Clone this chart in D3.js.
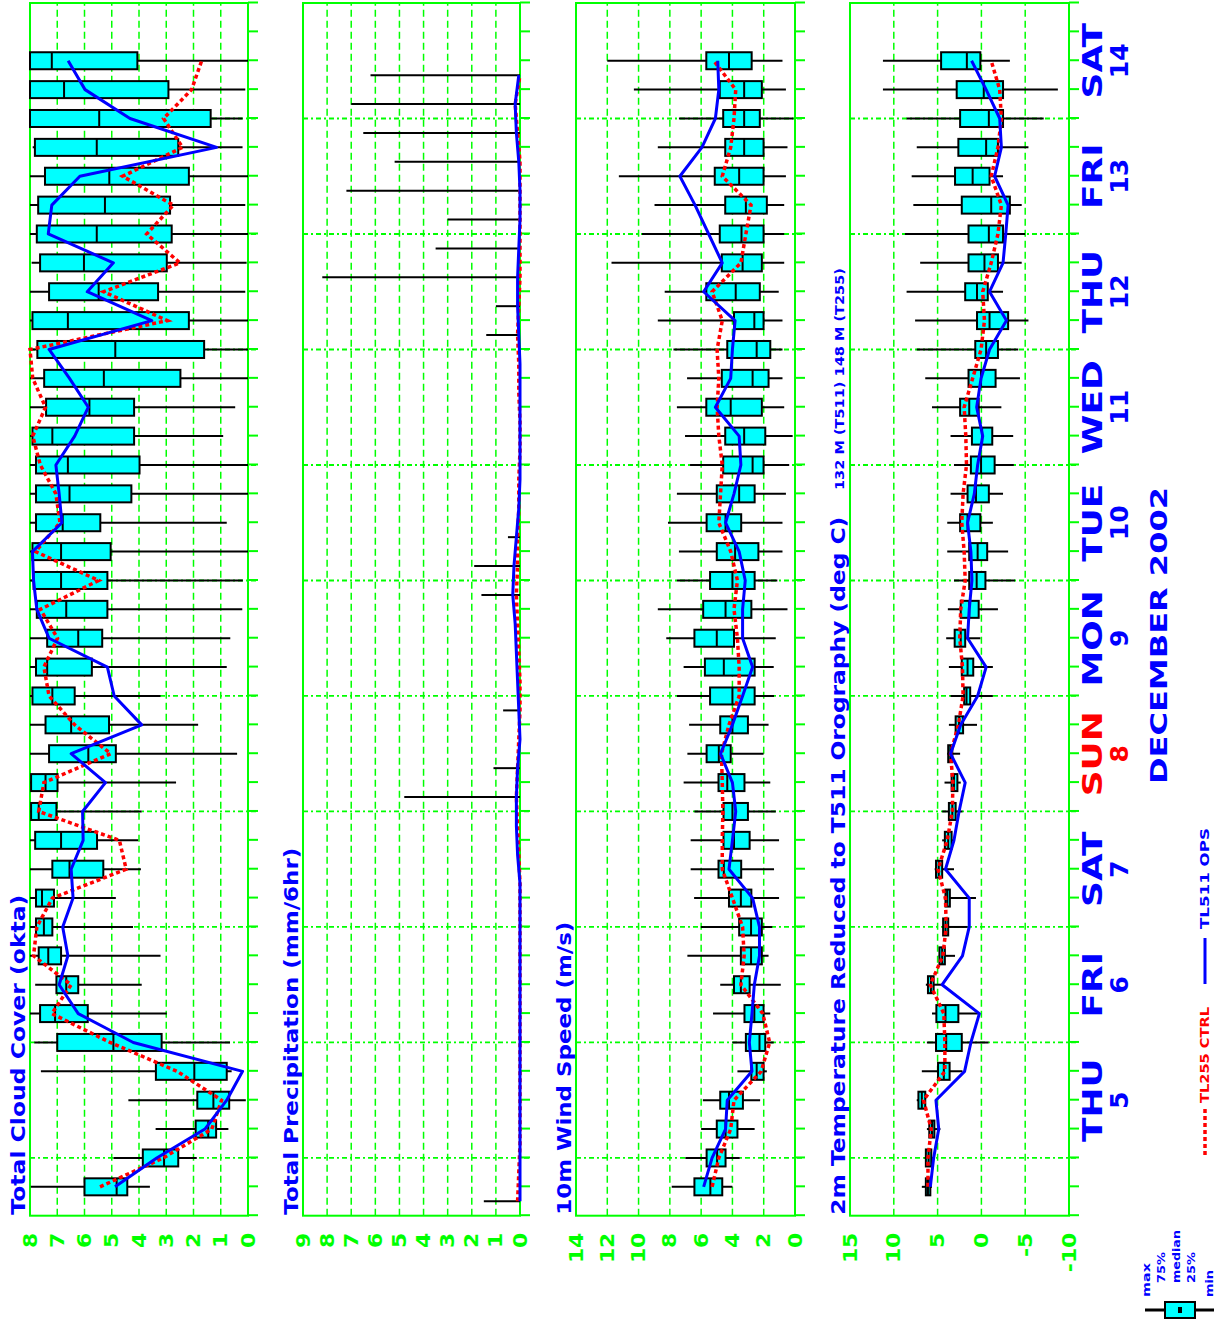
<!DOCTYPE html>
<html>
<head>
<meta charset="utf-8">
<script src="https://cdn.jsdelivr.net/npm/d3@7"></script>
<style>
html, body { margin: 0; padding: 0; background: #fff; }
svg { display: block; }
text { font-family: "DejaVu Sans", sans-serif; font-weight: bold; }
</style>
</head>
<body>
<div id="chart"></div>
<script>
// ---- data (EPS meteogram, base 12 UTC 4 Dec 2002, 6-hourly steps) ----
var baseTime = Date.UTC(2002, 11, 4, 12);
var endTime = Date.UTC(2002, 11, 15, 0);
var stepHours = [6, 12, 18, 24, 30, 36, 42, 48, 54, 60, 66, 72, 78, 84, 90, 96, 102, 108, 114, 120,
    126, 132, 138, 144, 150, 156, 162, 168, 174, 180, 186, 192, 198, 204, 210, 216, 222, 228, 234, 240];

var dayNames = ['THU', 'FRI', 'SAT', 'SUN', 'MON', 'TUE', 'WED', 'THU', 'FRI', 'SAT'];
var dayNumbers = [5, 6, 7, 8, 9, 10, 11, 12, 13, 14];

var cloudMax = [7.97, 4.94, 3.39, 4.39, 7.6, 7.84, 8, 7.81, 8, 8, 8, 8, 8, 8, 8, 8, 8, 8, 8, 8,
    8, 8, 8, 8, 8, 8, 8, 8, 8, 8, 8, 8, 7.94, 8, 8, 8, 7.9, 8, 8, 8];
var cloudQ3 = [6.0, 3.86, 1.92, 1.86, 3.38, 7.0, 7.63, 7.03, 7.68, 7.78, 7.78, 7.18, 7.81, 7.96, 7.96, 7.3, 7.43, 7.91, 7.78, 7.37,
    7.75, 7.87, 7.91, 7.78, 7.78, 7.78, 7.91, 7.41, 7.48, 7.73, 7.91, 7.3, 7.63, 7.75, 7.7, 7.45, 7.82, 8, 8, 8];
var cloudMed = [4.82, 3.08, 1.46, 1.27, 1.97, 4.94, 7.08, 6.67, 7.33, 7.49, 7.56, 6.55, 6.86, 7.68, 7.43, 5.86, 6.49, 7.18, 7.37, 6.23,
    6.67, 6.86, 6.86, 6.8, 6.55, 6.61, 7.18, 5.82, 5.29, 4.87, 6.61, 5.48, 6.02, 5.55, 5.25, 5.09, 5.55, 5.46, 6.75, 7.2];
var cloudQ1 = [4.43, 2.56, 1.17, 0.69, 0.78, 3.17, 5.88, 6.23, 6.86, 7.18, 7.12, 5.31, 5.54, 7.03, 6.99, 4.85, 5.1, 6.36, 5.73, 5.35,
    5.16, 5.16, 5.04, 5.42, 4.28, 3.98, 4.18, 4.18, 2.48, 1.61, 2.17, 3.3, 2.98, 2.8, 2.86, 2.17, 2.56, 1.37, 2.92, 4.06];
var cloudMin = [3.6, 1.88, 0.72, 0.08, 0.6, 0.66, 2.98, 3.9, 3.21, 4.22, 4.85, 3.93, 4.03, 3.9, 2.64, 0.4, 1.83, 3.21, 0.78, 0.65,
    0.21, 0.19, 0, 0.78, 0, 0, 0.91, 0.47, 0, 0, 0, 0.1, 0.05, 0, 0.1, 0, 0.2, 0.2, 0.1, 0];
var cloudOps = [4.88, 3.35, 1.58, 0.78, 0.2, 4.21, 6.23, 6.93, 6.61, 6.8, 6.42, 6.49, 6.05, 6.07, 5.23, 6.49, 3.9, 4.91, 5.16, 7.3,
    7.75, 7.87, 7.91, 6.83, 6.93, 7.05, 6.36, 5.86, 6.55, 7.3, 3.53, 5.9, 4.94, 7.33, 7.2, 6.17, 1.15, 4.33, 5.98, 6.6];
var cloudCtrl = [5.43, 3.11, 1.33, 0.97, 2.6, 5.06, 7.2, 6.49, 7.87, 7.75, 7.18, 4.47, 4.72, 7.68, 7.49, 5.04, 6.36, 7.3, 7.49, 6.99,
    7.62, 5.48, 7.8, 6.9, 7.05, 7.62, 7.9, 7.43, 7.9, 8, 2.96, 5.3, 2.5, 3.72, 2.74, 4.6, 2.4, 3.1, 2.07, 1.7];

// precipitation: 6-hour totals ending at each step (ensemble max, all other quantiles ~0)
var precipMax = [1.5, 0, 0, 0, 0, 0, 0, 0, 0, 0, 0, 0, 0, 0, 4.8, 1.1, 0, 0.7, 0, 0,
    0, 1.6, 1.9, 0.5, 0, 0, 0, 0, 0, 0, 1.4, 1.0, 8.2, 3.5, 3.0, 7.2, 5.2, 6.5, 7.0, 6.2];
var precipOps = [0, 0, 0, 0, 0, 0, 0, 0, 0, 0, 0, 0, 0.1, 0.15, 0.15, 0.1, 0, 0.05, 0.1, 0.15,
    0.2, 0.3, 0.25, 0.15, 0.05, 0, 0, 0, 0, 0, 0.05, 0.1, 0.1, 0.05, 0, 0, 0.05, 0.15, 0.2, 0.05];
var precipCtrl = [0.1, 0.05, 0, 0, 0, 0, 0, 0, 0, 0, 0, 0, 0.05, 0.1, 0.15, 0.1, 0.05, 0, 0, 0.05,
    0.1, 0.15, 0.1, 0.1, 0.05, 0.05, 0, 0, 0.05, 0.05, 0.1, 0.05, 0, 0, 0, 0, 0, 0.1, 0.2, 0];

var windMax = [7.88, 7.01, 6.0, 5.89, 3.68, 4.0, 5.24, 4.78, 6.88, 6.02, 6.45, 6.67, 6.67, 6.43, 7.12, 6.88, 6.77, 7.55, 7.12, 8.23,
    8.77, 7.55, 7.42, 8.12, 7.55, 6.71, 7.03, 7.55, 6.9, 7.77, 8.77, 8.33, 11.73, 9.78, 8.98, 11.26, 8.77, 7.42, 10.3, 12.0];
var windQ3 = [6.43, 5.65, 5.0, 4.78, 2.79, 3.14, 3.23, 3.9, 3.46, 3.57, 4.22, 4.89, 4.57, 4.57, 4.89, 5.65, 4.78, 5.43, 5.76, 6.43,
    5.87, 5.43, 5.0, 5.65, 5.0, 4.59, 4.46, 5.67, 4.68, 4.33, 3.9, 5.67, 4.68, 4.81, 4.46, 5.13, 4.46, 4.59, 4.81, 5.67];
var windMed = [5.41, 4.98, 4.44, 4.22, 2.45, 2.27, 2.6, 3.46, 2.81, 2.81, 3.46, 4.55, 3.9, 4.0, 4.33, 4.87, 4.0, 4.0, 4.55, 5.0,
    4.44, 4.0, 3.83, 4.44, 3.57, 2.71, 3.25, 4.11, 2.71, 2.45, 2.6, 3.79, 3.35, 3.42, 3.14, 3.57, 3.25, 3.25, 3.25, 4.22];
var windQ1 = [4.65, 4.44, 3.68, 3.33, 2.01, 1.9, 2.01, 2.9, 2.12, 2.12, 2.79, 3.44, 2.9, 3.01, 3.23, 4.11, 3.01, 2.58, 2.58, 3.9,
    2.79, 2.58, 2.34, 3.44, 2.58, 2.01, 1.9, 2.12, 1.69, 1.58, 2.01, 2.25, 2.12, 2.01, 1.8, 2.01, 2.01, 2.25, 2.12, 2.77];
var windMin = [4.0, 3.53, 2.58, 2.23, 1.8, 1.36, 1.58, 0.91, 1.69, 1.45, 1.02, 1.34, 1.02, 1.23, 1.58, 2.01, 1.69, 1.34, 1.36, 1.23,
    0.48, 1.13, 0.8, 0.8, 0.58, 0.37, 0.15, 0.69, 0.8, 0.8, 0.8, 1.04, 0.69, 0.69, 0.69, 0.58, 0.48, 0.1, 0.58, 0.8];
var windOps = [5.84, 5.3, 4.44, 4.33, 2.75, 2.92, 2.75, 2.6, 2.27, 2.27, 2.71, 4.22, 4.0, 3.79, 4.0, 4.76, 4.0, 3.35, 2.71, 3.35,
    3.35, 3.18, 3.57, 4.44, 3.9, 3.46, 3.57, 5.09, 4.11, 4.0, 3.83, 5.84, 4.65, 5.52, 6.39, 7.36, 5.95, 5.09, 4.87, 4.94];
var windCtrl = [5.3, 4.87, 4.11, 3.9, 2.16, 1.62, 2.06, 3.46, 3.25, 3.35, 4.0, 4.65, 4.65, 4.61, 4.65, 4.7, 4.22, 3.57, 3.57, 3.68,
    3.9, 3.68, 4.11, 4.87, 4.76, 4.65, 4.87, 4.98, 4.87, 4.98, 4.65, 5.3, 3.46, 3.14, 2.81, 4.65, 4.11, 3.9, 3.79, 5.19];

var tempMax = [6.8, 6.49, 6.22, 7.38, 6.8, 6.22, 5.64, 6.34, 4.87, 4.48, 4.29, 5.33, 4.48, 4.48, 4.21, 3.9, 3.71, 3.52, 3.71, 4.02,
    3.83, 3.13, 3.9, 3.9, 3.52, 3.13, 3.52, 5.64, 6.41, 7.38, 7.57, 8.54, 6.99, 8.73, 7.77, 7.96, 7.38, 8.54, 11.24, 11.24];
var tempQ3 = [6.34, 6.34, 5.95, 7.19, 4.95, 5.18, 5.14, 6.1, 4.79, 4.37, 4.1, 5.18, 4.17, 3.71, 3.4, 3.79, 2.94, 1.97, 2.24, 3.05,
    2.36, 1.39, 1.39, 2.43, 1.58, 1.2, 1.08, 2.43, 1.47, 0.7, 0.5, 1.85, 1.47, 1.47, 2.24, 3.01, 2.63, 2.43, 2.82, 4.6];
var tempMed = [6.1, 6.03, 5.64, 6.8, 4.29, 4.02, 4.1, 5.76, 4.48, 4.1, 3.9, 4.87, 3.79, 3.32, 3.13, 3.55, 2.55, 1.7, 1.58, 2.36,
    1.39, 0.54, 0.43, 1.58, 0.62, 0.04, -0.08, 1.39, 0.04, -0.54, -0.93, 0.5, -0.35, -0.85, -1.12, 1.0, -0.54, -0.85, -0.27, 1.66];
var tempQ1 = [5.83, 5.72, 5.37, 6.41, 3.63, 2.24, 2.63, 5.45, 4.17, 3.79, 3.6, 4.48, 3.4, 2.94, 2.74, 3.32, 2.09, 1.28, 0.93, 1.85,
    0.31, -0.46, -0.66, 0.12, -0.85, -1.51, -1.24, 0.31, -1.62, -1.89, -3.05, -0.73, -1.89, -2.47, -3.25, -0.93, -1.89, -2.47, -2.47, 0.12];
var tempMin = [5.64, 5.45, 4.68, 6.34, 2.16, -0.81, 0.23, 4.48, 3.01, 1.58, 0.62, 3.13, 3.13, 2.16, 2.36, 2.43, 0.5, -1.31, -1.31, 0.12,
    -1.89, -3.83, -3.05, -1.31, -2.47, -3.71, -3.63, -2.28, -4.4, -4.21, -5.37, -2.47, -4.6, -4.98, -4.6, -2.47, -5.37, -7.11, -8.73, -3.25];
var tempOps = [5.83, 5.45, 4.87, 5.19, 1.92, 1.2, 0.23, 4.48, 2.16, 1.39, 1.39, 4.1, 3.13, 2.55, 1.85, 3.52, 2.36, 0.43, -0.54, 1.58,
    1.39, 1.08, 1.2, 1.58, 0.81, 0.43, -0.15, 0.54, 0.04, -0.93, -2.86, -0.93, -2.47, -2.78, -3.05, -1.51, -2.28, -2.09, -0.54, 1.12];
var tempCtrl = [6.1, 6.1, 5.72, 6.61, 4.17, 4.17, 4.29, 5.83, 4.4, 4.02, 4.1, 4.95, 3.9, 3.32, 3.25, 3.52, 2.63, 2.09, 2.16, 2.47,
    2.36, 1.85, 1.97, 2.24, 2.09, 1.7, 1.78, 1.97, 1.0, 0.04, -0.35, -0.15, -1.12, -1.89, -2.28, -1.12, -1.89, -2.28, -2.09, -1.12];

// ---- layout ----
var W = 1214, H = 1322;
var GREEN = '#00ff00', BLUE = '#0000ff', RED = '#ff0000', CYAN = '#00ffff';
var tickLen = 10;
var boxW = 17;

var panels = [
    {title: 'Total Cloud Cover (okta)', titleLen: 320, top: 30, bottom: 248, domain: [0, 8],
        labels: d3.range(0, 9), grid: d3.range(1, 8),
        max: cloudMax, q3: cloudQ3, med: cloudMed, q1: cloudQ1, min: cloudMin, ops: cloudOps, ctrl: cloudCtrl},
    {title: 'Total Precipitation (mm/6hr)', titleLen: 367, top: 303, bottom: 520, domain: [0, 9],
        labels: d3.range(0, 10), grid: d3.range(1, 9), precip: true,
        max: precipMax, ops: precipOps, ctrl: precipCtrl},
    {title: '10m Wind Speed (m/s)', titleLen: 293, top: 576, bottom: 795, domain: [0, 14],
        labels: d3.range(0, 15, 2), grid: d3.range(2, 14, 2),
        max: windMax, q3: windQ3, med: windMed, q1: windQ1, min: windMin, ops: windOps, ctrl: windCtrl},
    {title: '2m Temperature Reduced to T511 Orography (deg C)', titleLen: 698, top: 850, bottom: 1069, domain: [-10, 15],
        labels: d3.range(-10, 16, 5), grid: [-5, 0, 5, 10],
        max: tempMax, q3: tempQ3, med: tempMed, q1: tempQ1, min: tempMin, ops: tempOps, ctrl: tempCtrl}
];

var svg = d3.select('#chart').append('svg')
    .attr('width', W)
    .attr('height', H);

// the whole meteogram is drawn in its normal orientation and then turned 90 degrees
var g = svg.append('g')
    .attr('transform', 'translate(0,' + H + ') rotate(-90)');

var x = d3.scaleUtc()
    .domain([new Date(baseTime), new Date(endTime)])
    .range([106.3, 1319]);

var stepDates = stepHours.map(function (h) { return new Date(baseTime + h * 3600e3); });
var midDates = stepHours.map(function (h) { return new Date(baseTime + (h - 3) * 3600e3); });
var dayBounds = d3.utcDay.range(new Date(baseTime), new Date(endTime)).filter(function (d) { return +d > baseTime; });

function stretch(sel, factor) {
    sel.each(function () {
        var len = this.getComputedTextLength();
        d3.select(this).attr('textLength', len * factor).attr('lengthAdjust', 'spacingAndGlyphs');
    });
}

function drawPanel(p) {
    var y = d3.scaleLinear().domain(p.domain).range([p.bottom, p.top]);
    var x0 = x.range()[0], x1 = x.range()[1];
    var pg = g.append('g');

    // value grid
    pg.selectAll('line.vgrid').data(p.grid).enter().append('line')
        .attr('class', 'vgrid')
        .attr('x1', x0).attr('x2', x1)
        .attr('y1', y).attr('y2', y)
        .attr('stroke', GREEN).attr('stroke-width', 1.5)
        .attr('stroke-dasharray', '7,4');

    // day boundaries
    pg.selectAll('line.dgrid').data(dayBounds).enter().append('line')
        .attr('class', 'dgrid')
        .attr('x1', x).attr('x2', x)
        .attr('y1', p.top).attr('y2', p.bottom + tickLen)
        .attr('stroke', GREEN).attr('stroke-width', 1.8)
        .attr('stroke-dasharray', '5,3,2,3');

    // frame
    pg.append('rect')
        .attr('x', x0).attr('y', p.top)
        .attr('width', x1 - x0).attr('height', p.bottom - p.top)
        .attr('fill', 'none').attr('stroke', GREEN).attr('stroke-width', 2);

    // 6-hourly time ticks
    pg.append('g')
        .attr('transform', 'translate(0,' + p.bottom + ')')
        .call(d3.axisBottom(x).ticks(d3.utcHour.every(6)).tickSize(tickLen).tickFormat(''))
        .call(function (a) { a.select('.domain').remove(); })
        .selectAll('line').attr('stroke', GREEN).attr('stroke-width', 2);

    // value labels
    var ya = pg.append('g')
        .attr('transform', 'translate(' + x0 + ',0)')
        .call(d3.axisLeft(y).tickValues(p.labels).tickSize(0).tickPadding(17)
            .tickFormat(function (d) { return String(d); }))
        .call(function (a) { a.select('.domain').remove(); });
    ya.attr('font-size', 19).attr('font-family', '"DejaVu Sans", sans-serif').attr('font-weight', 'bold');
    var labels = ya.selectAll('text').attr('fill', GREEN);
    stretch(labels, 1.15);

    // title
    g.append('text')
        .attr('x', x0 + 1)
        .attr('y', p.top - 5)
        .attr('fill', BLUE)
        .attr('font-size', 20)
        .attr('textLength', p.titleLen)
        .attr('lengthAdjust', 'spacingAndGlyphs')
        .text(p.title);

    if (p.precip) {
        var prows = midDates.map(function (d, i) { return {t: d, max: p.max[i]}; })
            .filter(function (d) { return d.max > 0; });
        pg.selectAll('line.whisker').data(prows).enter().append('line')
            .attr('x1', function (d) { return x(d.t); })
            .attr('x2', function (d) { return x(d.t); })
            .attr('y1', function (d) { return y(d.max); })
            .attr('y2', y(0))
            .attr('stroke', '#000').attr('stroke-width', 2);
    } else {
        var rows = stepDates.map(function (d, i) {
            return {t: d, max: p.max[i], q3: p.q3[i], med: p.med[i], q1: p.q1[i], min: p.min[i]};
        });
        pg.selectAll('line.whisker').data(rows).enter().append('line')
            .attr('x1', function (d) { return x(d.t); })
            .attr('x2', function (d) { return x(d.t); })
            .attr('y1', function (d) { return y(d.max); })
            .attr('y2', function (d) { return y(d.min); })
            .attr('stroke', '#000').attr('stroke-width', 2);
        pg.selectAll('rect.box').data(rows).enter().append('rect')
            .attr('x', function (d) { return x(d.t) - boxW / 2; })
            .attr('y', function (d) { return y(d.q3); })
            .attr('width', boxW)
            .attr('height', function (d) { return y(d.q1) - y(d.q3); })
            .attr('fill', CYAN).attr('stroke', '#000').attr('stroke-width', 2);
        pg.selectAll('line.median').data(rows).enter().append('line')
            .attr('x1', function (d) { return x(d.t) - boxW / 2; })
            .attr('x2', function (d) { return x(d.t) + boxW / 2; })
            .attr('y1', function (d) { return y(d.med); })
            .attr('y2', function (d) { return y(d.med); })
            .attr('stroke', '#000').attr('stroke-width', 2);
    }

    var dates = p.precip ? midDates : stepDates;
    var line = d3.line()
        .x(function (d) { return x(d[0]); })
        .y(function (d) { return y(d[1]); });

    pg.append('path')
        .datum(dates.map(function (d, i) { return [d, p.ctrl[i]]; }))
        .attr('d', line)
        .attr('fill', 'none').attr('stroke', RED).attr('stroke-width', 3.5)
        .attr('stroke-dasharray', '4,3');

    pg.append('path')
        .datum(dates.map(function (d, i) { return [d, p.ops[i]]; }))
        .attr('d', line)
        .attr('fill', 'none').attr('stroke', BLUE).attr('stroke-width', 3)
        .attr('stroke-linejoin', 'round');
}

panels.forEach(drawPanel);

// resolution note next to temperature title
g.append('text')
    .attr('x', 832).attr('y', 844)
    .attr('fill', BLUE).attr('font-size', 12)
    .attr('textLength', 222).attr('lengthAdjust', 'spacingAndGlyphs')
    .text('132 M (T511)  148 M (T255)');

// day labels
var dayCenters = dayNumbers.map(function (d) { return new Date(Date.UTC(2002, 11, d, 12)); });
var dl = g.append('g');
var names = dl.selectAll('text.dname').data(dayNames).enter().append('text')
    .attr('class', 'dname')
    .attr('x', function (d, i) { return x(dayCenters[i]); })
    .attr('y', 1102)
    .attr('text-anchor', 'middle')
    .attr('font-size', 27)
    .attr('fill', function (d, i) { return dayNumbers[i] === 8 ? RED : BLUE; })
    .text(function (d) { return d; });
stretch(names, 1.33);

dl.selectAll('text.dnum').data(dayNumbers).enter().append('text')
    .attr('class', 'dnum')
    .attr('x', function (d, i) { return x(dayCenters[i]); })
    .attr('y', 1128)
    .attr('text-anchor', 'middle')
    .attr('font-size', 25)
    .attr('fill', function (d) { return d === 8 ? RED : BLUE; })
    .text(function (d) { return d; });

g.append('text')
    .attr('x', 538).attr('y', 1167)
    .attr('fill', BLUE).attr('font-size', 23)
    .attr('textLength', 297).attr('lengthAdjust', 'spacingAndGlyphs')
    .text('DECEMBER 2002');

// legend: control and operational lines
var lg = g.append('g');
lg.append('line').attr('x1', 167).attr('x2', 214).attr('y1', 1205).attr('y2', 1205)
    .attr('stroke', RED).attr('stroke-width', 3.5).attr('stroke-dasharray', '4,3');
lg.append('text').attr('x', 219).attr('y', 1209)
    .attr('fill', RED).attr('font-size', 13)
    .attr('textLength', 96).attr('lengthAdjust', 'spacingAndGlyphs')
    .text('TL255 CTRL');
lg.append('line').attr('x1', 338).attr('x2', 384).attr('y1', 1205).attr('y2', 1205)
    .attr('stroke', BLUE).attr('stroke-width', 3);
lg.append('text').attr('x', 393).attr('y', 1209)
    .attr('fill', BLUE).attr('font-size', 13)
    .attr('textLength', 101).attr('lengthAdjust', 'spacingAndGlyphs')
    .text('TL511 OPS');

// legend: box plot key
var bk = g.append('g');
bk.append('line').attr('x1', 12).attr('x2', 12).attr('y1', 1145).attr('y2', 1214)
    .attr('stroke', '#000').attr('stroke-width', 3);
bk.append('rect').attr('x', 4).attr('y', 1165).attr('width', 16).attr('height', 30)
    .attr('fill', CYAN).attr('stroke', '#000').attr('stroke-width', 2);
bk.append('rect').attr('x', 9).attr('y', 1178).attr('width', 6).attr('height', 4).attr('fill', '#000');
var keyText = [
    {t: 'max', x: 25, y: 1150, len: 34},
    {t: '75%', x: 39, y: 1165, len: 31},
    {t: 'median', x: 39, y: 1180, len: 53},
    {t: '25%', x: 39, y: 1195, len: 31},
    {t: 'min', x: 25, y: 1213, len: 27}
];
bk.selectAll('text').data(keyText).enter().append('text')
    .attr('x', function (d) { return d.x; })
    .attr('y', function (d) { return d.y; })
    .attr('fill', BLUE).attr('font-size', 10)
    .attr('textLength', function (d) { return d.len; })
    .attr('lengthAdjust', 'spacingAndGlyphs')
    .text(function (d) { return d.t; });
</script>
</body>
</html>
